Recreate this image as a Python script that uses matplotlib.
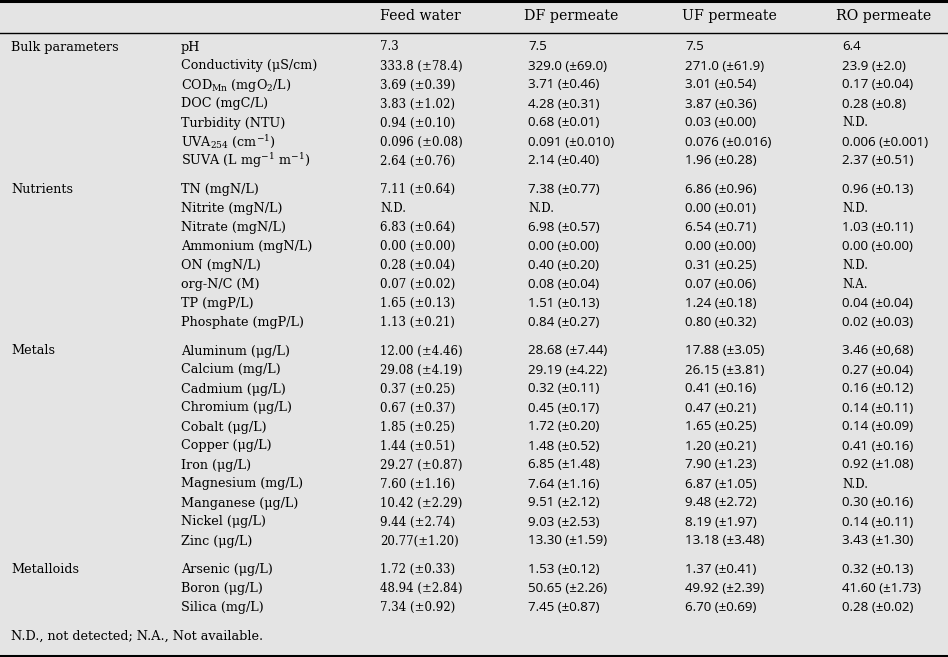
import matplotlib
matplotlib.use("Agg")
import matplotlib.pyplot as plt

plt.rcParams['mathtext.fontset'] = 'dejavuserif'

header = ["Feed water", "DF permeate", "UF permeate", "RO permeate"]

groups = ["Bulk parameters", "Nutrients", "Metals", "Metalloids"]

params = [
    ["pH", "Conductivity (μS/cm)", r"COD$_{\mathrm{Mn}}$ (mgO$_{2}$/L)", "DOC (mgC/L)",
     "Turbidity (NTU)", r"UVA$_{254}$ (cm$^{-1}$)", r"SUVA (L mg$^{-1}$ m$^{-1}$)"],
    ["TN (mgN/L)", "Nitrite (mgN/L)", "Nitrate (mgN/L)", "Ammonium (mgN/L)", "ON (mgN/L)",
     "org-N/C (M)", "TP (mgP/L)", "Phosphate (mgP/L)"],
    ["Aluminum (μg/L)", "Calcium (mg/L)", "Cadmium (μg/L)", "Chromium (μg/L)", "Cobalt (μg/L)",
     "Copper (μg/L)", "Iron (μg/L)", "Magnesium (mg/L)", "Manganese (μg/L)", "Nickel (μg/L)",
     "Zinc (μg/L)"],
    ["Arsenic (μg/L)", "Boron (μg/L)", "Silica (mg/L)"],
]

feed = [
    ["7.3", "333.8 (±78.4)", "3.69 (±0.39)", "3.83 (±1.02)", "0.94 (±0.10)", "0.096 (±0.08)", "2.64 (±0.76)"],
    ["7.11 (±0.64)", "N.D.", "6.83 (±0.64)", "0.00 (±0.00)", "0.28 (±0.04)", "0.07 (±0.02)", "1.65 (±0.13)", "1.13 (±0.21)"],
    ["12.00 (±4.46)", "29.08 (±4.19)", "0.37 (±0.25)", "0.67 (±0.37)", "1.85 (±0.25)", "1.44 (±0.51)",
     "29.27 (±0.87)", "7.60 (±1.16)", "10.42 (±2.29)", "9.44 (±2.74)", "20.77(±1.20)"],
    ["1.72 (±0.33)", "48.94 (±2.84)", "7.34 (±0.92)"],
]

df_perm = [
    ["7.5", "329.0 (±69.0)", "3.71 (±0.46)", "4.28 (±0.31)", "0.68 (±0.01)", "0.091 (±0.010)", "2.14 (±0.40)"],
    ["7.38 (±0.77)", "N.D.", "6.98 (±0.57)", "0.00 (±0.00)", "0.40 (±0.20)", "0.08 (±0.04)", "1.51 (±0.13)", "0.84 (±0.27)"],
    ["28.68 (±7.44)", "29.19 (±4.22)", "0.32 (±0.11)", "0.45 (±0.17)", "1.72 (±0.20)", "1.48 (±0.52)",
     "6.85 (±1.48)", "7.64 (±1.16)", "9.51 (±2.12)", "9.03 (±2.53)", "13.30 (±1.59)"],
    ["1.53 (±0.12)", "50.65 (±2.26)", "7.45 (±0.87)"],
]

uf_perm = [
    ["7.5", "271.0 (±61.9)", "3.01 (±0.54)", "3.87 (±0.36)", "0.03 (±0.00)", "0.076 (±0.016)", "1.96 (±0.28)"],
    ["6.86 (±0.96)", "0.00 (±0.01)", "6.54 (±0.71)", "0.00 (±0.00)", "0.31 (±0.25)", "0.07 (±0.06)", "1.24 (±0.18)", "0.80 (±0.32)"],
    ["17.88 (±3.05)", "26.15 (±3.81)", "0.41 (±0.16)", "0.47 (±0.21)", "1.65 (±0.25)", "1.20 (±0.21)",
     "7.90 (±1.23)", "6.87 (±1.05)", "9.48 (±2.72)", "8.19 (±1.97)", "13.18 (±3.48)"],
    ["1.37 (±0.41)", "49.92 (±2.39)", "6.70 (±0.69)"],
]

ro_perm = [
    ["6.4", "23.9 (±2.0)", "0.17 (±0.04)", "0.28 (±0.8)", "N.D.", "0.006 (±0.001)", "2.37 (±0.51)"],
    ["0.96 (±0.13)", "N.D.", "1.03 (±0.11)", "0.00 (±0.00)", "N.D.", "N.A.", "0.04 (±0.04)", "0.02 (±0.03)"],
    ["3.46 (±0,68)", "0.27 (±0.04)", "0.16 (±0.12)", "0.14 (±0.11)", "0.14 (±0.09)", "0.41 (±0.16)",
     "0.92 (±1.08)", "N.D.", "0.30 (±0.16)", "0.14 (±0.11)", "3.43 (±1.30)"],
    ["0.32 (±0.13)", "41.60 (±1.73)", "0.28 (±0.02)"],
]

footnote = "N.D., not detected; N.A., Not available."

# ---- layout ----
W, H = 948, 657
fig = plt.figure(figsize=(W / 100, H / 100), dpi=100)
bg = "#e4e4e4"
fig.patch.set_facecolor(bg)
ax = fig.add_axes([0, 0, 1, 1])
ax.set_xlim(0, W)
ax.set_ylim(H, 0)
ax.axis("off")
ax.set_facecolor(bg)

SERIF = "DejaVu Serif"
SANS = "Open Sans"
FS_LAB = 9.2
FS_VAL = 8.5
FS_SANS = 9.6
FS_HEAD = 10.2
col_x = [11, 181, 380, 528, 685, 842]
head_x = [380, 524, 682, 836]
step = 19.0
gap = 9.5

ax.axhline(1, color="black", lw=2.2)
ax.axhline(32.5, color="black", lw=1.0)
ax.axhline(655.5, color="black", lw=2.2)

for x, h in zip(head_x, header):
    ax.text(x, 16, h, fontsize=FS_HEAD, family=SERIF, va="center", ha="left")

value_cols = [feed, df_perm, uf_perm, ro_perm]
y = 47.0
for gi, g in enumerate(groups):
    ax.text(col_x[0], y, g, fontsize=FS_LAB, family=SERIF, va="center", ha="left")
    for ri, p in enumerate(params[gi]):
        yy = y + ri * step
        ax.text(col_x[1], yy, p, fontsize=FS_LAB, family=SERIF, va="center", ha="left")
        for ci, col in enumerate(value_cols):
            v = col[gi][ri]
            if ci == 0 or v.startswith("N."):
                fam, fs = SERIF, FS_VAL
            else:
                fam, fs = SANS, FS_SANS
            ax.text(col_x[2 + ci], yy, v, fontsize=fs, family=fam, va="center", ha="left")
    y = y + len(params[gi]) * step + gap

ax.text(col_x[0], y, footnote, fontsize=FS_LAB, family=SERIF, va="center", ha="left")

fig.savefig("out.png", dpi=100, facecolor=bg)
